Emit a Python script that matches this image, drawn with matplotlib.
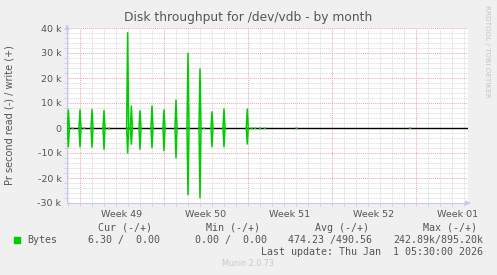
import numpy as np
import matplotlib.pyplot as plt
from matplotlib.ticker import FixedLocator, MultipleLocator

# spikes: day offset from Monday of week 49, write (+) and read (-) in bytes/s
spike_day = [-0.97, 0.0, 1.0, 2.0, 3.97, 4.28, 5.0, 6.0, 7.0, 8.0, 9.0, 10.0, 11.0, 12.0, 13.94]
write_k = [7.2, 7.2, 7.4, 7.0, 38.1, 8.8, 6.9, 8.8, 7.2, 11.2, 29.9, 23.6, 6.5, 7.6, 7.6]
read_k = [-7.5, -7.5, -7.7, -8.5, -10.0, -6.5, -8.5, -7.9, -9.1, -11.9, -26.7, -27.9, -7.5, -7.5, -6.4]

# small blips close to zero
blip_day = [-0.62, 0.35, 2.4, 10.35, 14.3, 14.6, 15.0, 15.4, 18.05, 27.5]
blip_k = [-0.3, -0.3, -0.6, -0.4, -0.4, -0.3, -0.5, -0.3, -0.3, -0.3]

week_labels = ['Week 49', 'Week 50', 'Week 51', 'Week 52', 'Week 01']
ytick_vals = [-30, -20, -10, 0, 10, 20, 30, 40]

legend_heads = ['Cur (-/+)', 'Min (-/+)', 'Avg (-/+)', 'Max (-/+)']
legend_vals = ['6.30 /  0.00', '0.00 /  0.00', '474.23 /490.56', '242.89k/895.20k']

green = '#00cc00'
bg = '#f0f0f0'


def spike_line(days, vals, dt=1 / 12.):
    # each spike is its own little segment, NaN keeps them apart
    xs, ys = [], []
    for d, v in zip(days, vals):
        xs += [d - dt, d, d + dt, np.nan]
        ys += [0, v * 1000, 0, np.nan]
    return xs, ys


fig = plt.figure(figsize=(4.97, 2.75), dpi=100, facecolor=bg)
ax = fig.add_axes([67 / 497, 1 - 203 / 275, 401 / 497, 175 / 275])
ax.set_facecolor('white')

x0, x1 = -13 / 12., (468 - 80) / 12.
ax.set_xlim(x0, x1)
ax.set_ylim(-30000, 40000)

# grid
for d in np.arange(-1, 33):
    if d % 7 != 0:
        ax.axvline(d, color='#d4d4d4', lw=0.6, ls=(0, (1, 1)), zorder=1)
for y in range(-28000, 40001, 2000):
    if y % 10000 != 0:
        ax.axhline(y, color='#d4d4d4', lw=0.6, ls=(0, (1, 1)), zorder=1)
for d in range(0, 29, 7):
    ax.axvline(d, color='#e8a8a8', lw=0.7, ls=(0, (1, 1)), zorder=1.5)
for y in range(-20000, 40001, 10000):
    ax.axhline(y, color='#e8a8a8', lw=0.7, ls=(0, (1, 1)), zorder=1.5)
ax.axvline(x1, color='#d4d4d4', lw=0.6, ls=(0, (1, 1)), zorder=1)

ax.axhline(0, color='black', lw=1.0, zorder=3)

xs, ys = spike_line(spike_day, write_k)
ax.plot(xs, ys, color=green, lw=1.1, zorder=4)
xs, ys = spike_line(spike_day, read_k)
ax.plot(xs, ys, color=green, lw=1.1, zorder=4)
xs, ys = spike_line(blip_day, blip_k, dt=0.06)
ax.plot(xs, ys, color=green, lw=0.8, zorder=4)

for s in ['top', 'right']:
    ax.spines[s].set_visible(False)
for s in ['left', 'bottom']:
    ax.spines[s].set_color('#c8c8f0')
    ax.spines[s].set_linewidth(0.8)

# arrows
ax.annotate('', xy=(x1 + 0.45, -30000), xytext=(x1 - 0.1, -30000),
            arrowprops=dict(arrowstyle='-|>', color='#c8c8f0', lw=0.8, mutation_scale=7),
            annotation_clip=False)
ax.annotate('', xy=(x0, 42500), xytext=(x0, 39500),
            arrowprops=dict(arrowstyle='-|>', color='#c8c8f0', lw=0.8, mutation_scale=7),
            annotation_clip=False)

ax.yaxis.set_major_locator(FixedLocator([v * 1000 for v in ytick_vals]))
ax.set_yticklabels([('%d k' % v) if v != 0 else '0' for v in ytick_vals])
ax.yaxis.set_minor_locator(MultipleLocator(2000))
ax.xaxis.set_major_locator(FixedLocator([3.5, 10.5, 17.5, 24.5, 31.5]))
ax.set_xticklabels(week_labels)
ax.xaxis.set_minor_locator(MultipleLocator(1))
ax.tick_params(axis='both', which='major', length=0, labelsize=6.8, labelcolor='#555555', pad=4)
ax.tick_params(axis='both', which='minor', length=2, color='#c8c8f0', width=0.6)
ax.tick_params(axis='x', which='major', pad=5)

ax.set_ylabel('Pr second read (-) / write (+)', fontsize=7, color='#555555')
ax.yaxis.set_label_coords(-52 / 401, 0.5)

fig.text(248 / 497, 1 - 18 / 275, 'Disk throughput for /dev/vdb - by month',
         ha='center', va='center', fontsize=8.8, color='#555555')
fig.text(487 / 497, 1 - 5 / 275, 'RRDTOOL / TOBI OETIKER', rotation=270,
         ha='center', va='top', fontsize=5.2, color='#c4c4c4')

mono = 'DejaVu Sans Mono'
hx = [125, 233, 342, 450]
for h, x in zip(legend_heads, hx):
    fig.text(x / 497, 1 - 228 / 275, h, ha='center', va='center',
             fontsize=7.2, family=mono, color='#555555')
fig.patches.append(plt.Rectangle((14 / 497, 1 - 243 / 275), 6 / 497, 6 / 275,
                                 color=green, transform=fig.transFigure, figure=fig))
fig.text(27 / 497, 1 - 240 / 275, 'Bytes', ha='left', va='center',
         fontsize=7.2, family=mono, color='#555555')
vx = [160, 267, 372, 483]
for v, x in zip(legend_vals, vx):
    fig.text(x / 497, 1 - 240 / 275, v, ha='right', va='center',
             fontsize=7.2, family=mono, color='#555555')
fig.text(483 / 497, 1 - 252 / 275, 'Last update: Thu Jan  1 05:30:00 2026',
         ha='right', va='center', fontsize=7.2, family=mono, color='#555555')
fig.text(248 / 497, 1 - 264 / 275, 'Munin 2.0.73', ha='center', va='center',
         fontsize=5.8, color='#c8c8c8')

fig.savefig('out.png', dpi=100, facecolor=bg)
